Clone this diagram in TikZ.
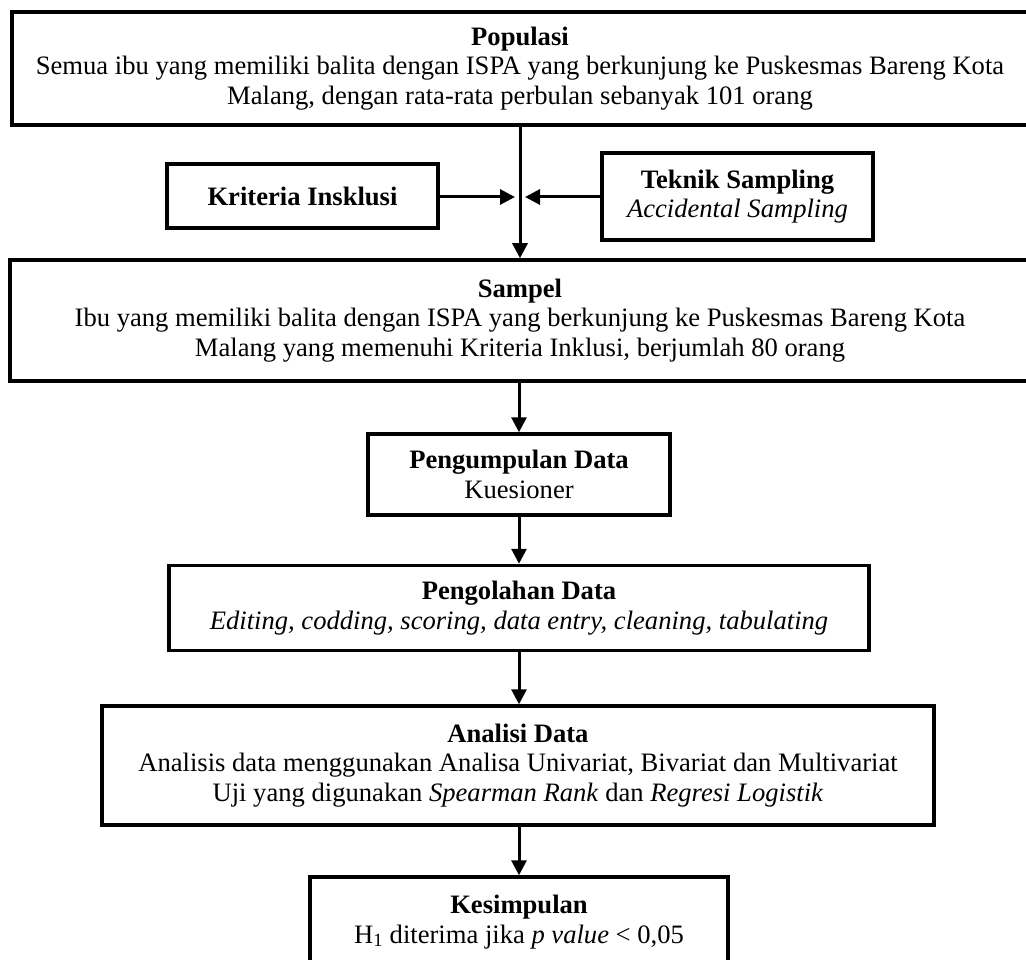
\documentclass[tikz,border=0pt]{standalone}
\usepackage{fontspec}
\setmainfont{Liberation Serif}
\usetikzlibrary{arrows.meta}
\begin{document}
\begin{tikzpicture}[x=1pt,y=1pt,
  box/.style={draw=black, line width=3.5pt, fill=white, align=center, inner sep=0pt,
    font=\fontsize{26.6}{29.5}\selectfont},
  arr/.style={line width=3pt, -{Triangle[length=15pt,width=15pt]}}]
\useasboundingbox (0,0) rectangle (1026,-960);
\clip (0,0) rectangle (1026,-960);
\fill[white] (0,0) rectangle (1026,-960);
\node[box, minimum width=1016, minimum height=113] (pop) at (520,-68.5)
  {\textbf{Populasi}\\Semua ibu yang memiliki balita dengan ISPA yang berkunjung ke Puskesmas Bareng Kota\\Malang, dengan rata-rata perbulan sebanyak 101 orang};
\node[box, minimum width=271, minimum height=64] (kri) at (302.5,-196)
  {\textbf{Kriteria Insklusi}};
\node[box, minimum width=271, minimum height=87] (tek) at (737.5,-196.5)
  {\textbf{Teknik Sampling}\\\textit{Accidental Sampling}};
\node[box, minimum width=1020, minimum height=121] (sam) at (520,-320.5)
  {\textbf{Sampel}\\Ibu yang memiliki balita dengan ISPA yang berkunjung ke Puskesmas Bareng Kota\\Malang yang memenuhi Kriteria Inklusi, berjumlah 80 orang};
\node[box, minimum width=302, minimum height=81] (kum) at (519,-474.5)
  {\textbf{Pengumpulan Data}\\Kuesioner};
\node[box, minimum width=700, minimum height=85] (ola) at (519,-608)
  {\textbf{Pengolahan Data}\\\textit{Editing, codding, scoring, data entry, cleaning, tabulating}};
\node[box, minimum width=832, minimum height=119] (ana) at (518,-765.5)
  {\textbf{Analisi Data}\\Analisis data menggunakan Analisa Univariat, Bivariat dan Multivariat\\Uji yang digunakan \textit{Spearman Rank} dan \textit{Regresi Logistik}};
\node[box, minimum width=418, minimum height=90] (kes) at (519,-922)
  {\textbf{Kesimpulan}\\H\textsubscript{1} diterima jika \textit{p value} < 0,05};
\coordinate (jl) at (515,-197);
\coordinate (jr) at (525,-197);
\draw[arr] (pop.south) -- (sam.north);
\draw[arr] (kri.east |- jl) -- (jl);
\draw[arr] (tek.west |- jr) -- (jr);
\draw[arr] (sam.south -| kum.north) -- (kum.north);
\draw[arr] (kum.south) -- (ola.north);
\draw[arr] (ola.south) -- (ana.north -| ola.south);
\draw[arr] (ana.south -| kes.north) -- (kes.north);
\end{tikzpicture}
\end{document}
